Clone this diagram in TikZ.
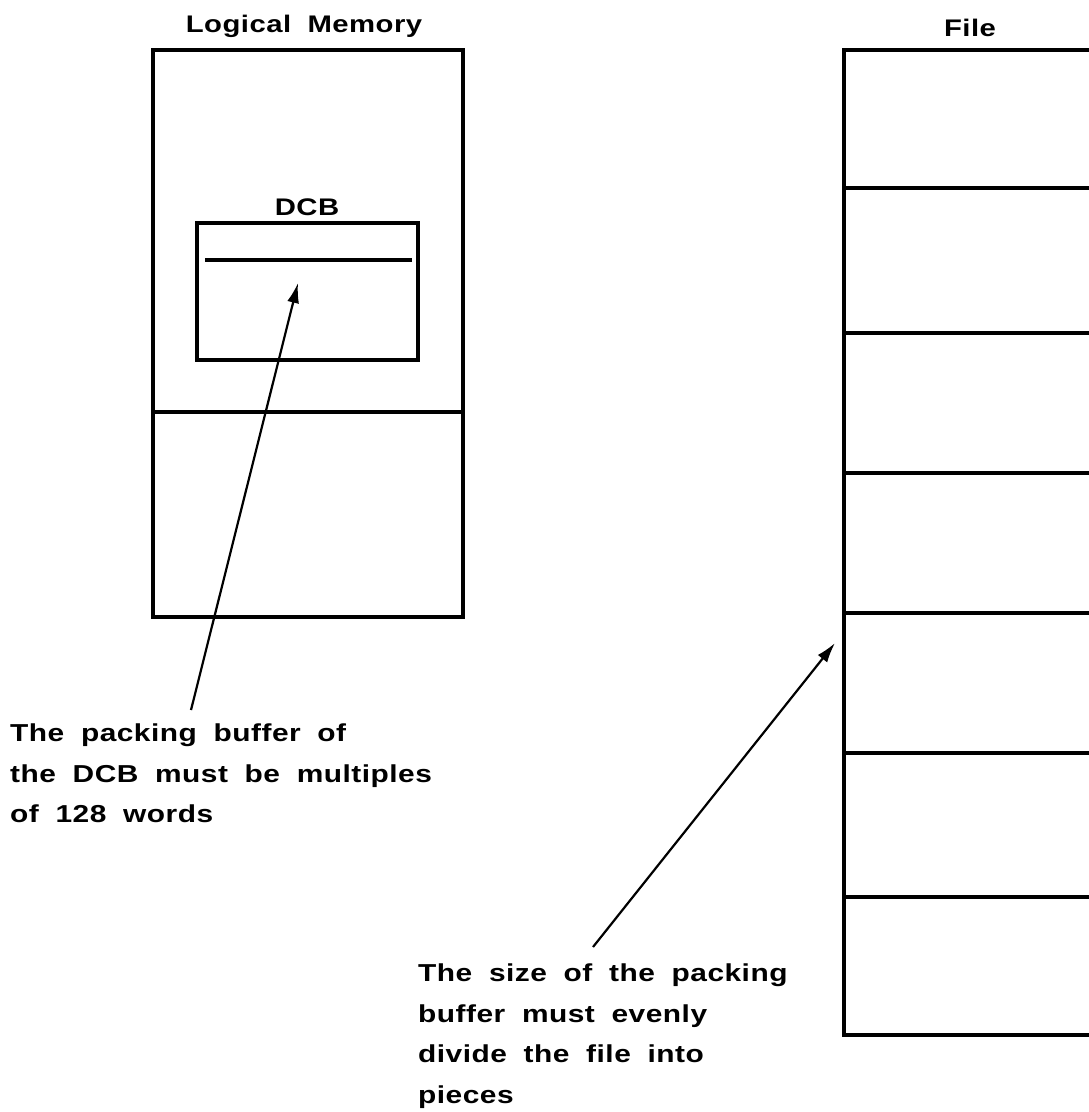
\documentclass[tikz,border=0pt]{standalone}
\usepackage{fontspec}
\setmainfont{Liberation Sans}
\newfontfamily\widefont[FakeStretch=1.22,LetterSpace=2,WordSpace=1.9]{Liberation Sans}
\usetikzlibrary{arrows.meta}
\begin{document}
\begin{tikzpicture}[x=1pt,y=-1pt,
  boxline/.style={line width=3.4pt},
  title/.style={font=\widefont\bfseries\fontsize{24}{28}\selectfont, inner sep=0pt, anchor=base},
  note/.style={font=\widefont\bfseries\fontsize{24.5}{40.5}\selectfont, align=left, inner sep=0pt, anchor=north west},
  pointer/.style={line width=2.2pt, -{Latex[length=20pt,width=12pt]}}]
\useasboundingbox (0,0) rectangle (1089,1112);
\clip (0,0) rectangle (1089,1112);
% Logical memory
\node[title] (lmt) at (304,32) {Logical Memory};
\draw[boxline] (153,50) rectangle (463,617);
\draw[boxline] (153,412) -- (463,412);
\node[title] (dcbt) at (307,215) {DCB};
\draw[boxline] (197,223) rectangle (418,360);
\draw[boxline] (205,260) -- (412,260);
% File
\node[title] (filet) at (970,36) {File};
\draw[boxline] (1095,50) -- (844,50) -- (844,1035) -- (1095,1035);
\foreach \yy in {188,333,473,613,753,897} \draw[boxline] (844,\yy) -- (1095,\yy);
% notes
\node[note] (n1) at (10,724) {The packing buffer of\\the DCB must be multiples\\of 128 words};
\node[note] (n2) at (418,964) {The size of the packing\\buffer must evenly\\divide the file into\\pieces};
\coordinate (t1) at (298,283);
\coordinate (s1) at (191,710);
\coordinate (t2) at (835,643);
\coordinate (s2) at (593,947);
\draw[pointer] (s1) -- (t1);
\draw[pointer] (s2) -- (t2);
\end{tikzpicture}
\end{document}
